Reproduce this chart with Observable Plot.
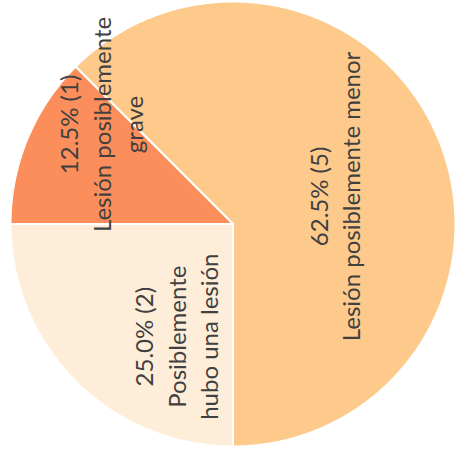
<!DOCTYPE html>
<html><head><meta charset="utf-8">
<script src="https://cdn.jsdelivr.net/npm/d3@7"></script>
<script src="https://cdn.jsdelivr.net/npm/@observablehq/plot@0.6"></script>
<style>body{margin:0;background:#fff}</style>
</head><body><div id="chart"></div>
<script>
const categories = ["Lesión posiblemente menor", "Posiblemente hubo una lesión", "Lesión posiblemente grave"];
const labelText = ["Lesión posiblemente menor", "Posiblemente\nhubo una lesión", "Lesión posiblemente\ngrave"];
const counts = [5, 2, 1];
const colors = ["#FDCA8C", "#FEEED9", "#FB8E5A"];
const startAngle = -45; // degrees clockwise from 12 o'clock

const total = d3.sum(counts);
let acc = startAngle;
const slices = categories.map((c, i) => {
  const a0 = acc, a1 = acc + counts[i] / total * 360;
  acc = a1;
  const pct = counts[i] / total * 100;
  return {category: c, count: counts[i], a0, a1, mid: (a0 + a1) / 2, color: colors[i],
    label: `${pct.toFixed(1)}% (${counts[i]})\n${labelText[i]}`};
});
function pt(a, r) { const t = a * Math.PI / 180; return [r * Math.sin(t), -r * Math.cos(t)]; }
const features = slices.map(s => {
  const ring = [[0, 0]];
  for (let a = s.a0; a < s.a1; a += 0.5) ring.push(pt(a, 1));
  ring.push(pt(s.a1, 1)); ring.push([0, 0]);
  return {type: "Feature", properties: s, geometry: {type: "Polygon", coordinates: [ring]}};
});
const circleRing = d3.range(0, 361, 1).map(a => pt(a, 1));
const domain = {type: "Feature", geometry: {type: "Polygon", coordinates: [circleRing]}};
const labels = slices.map(s => { const [x, y] = pt(s.mid, 0.5); return {...s, x, y}; });

const textOpts = {x: "x", y: "y", text: "label", rotate: -90, textAnchor: "middle", lineAnchor: "middle",
  fontSize: 24, lineHeight: 1.35, fill: "#404040", fontFamily: "Lato, sans-serif"};

const chart = Plot.plot({
  width: 455, height: 456,
  marginLeft: 10, marginRight: 0, marginTop: 1, marginBottom: 10,
  projection: {type: "identity", domain},
  marks: [
    Plot.geo(features, {fill: d => d.properties.color, stroke: "white", strokeWidth: 2}),
    Plot.text(labels.filter((d, i) => i === 0), {...textOpts, dx: -2, dy: 15}),
    Plot.text(labels.filter((d, i) => i === 1), {...textOpts, dx: 21, dy: 34}),
    Plot.text(labels.filter((d, i) => i === 2), {...textOpts, dx: -30, dy: -57})
  ]
});
document.getElementById("chart").append(chart);
</script>
</body></html>
